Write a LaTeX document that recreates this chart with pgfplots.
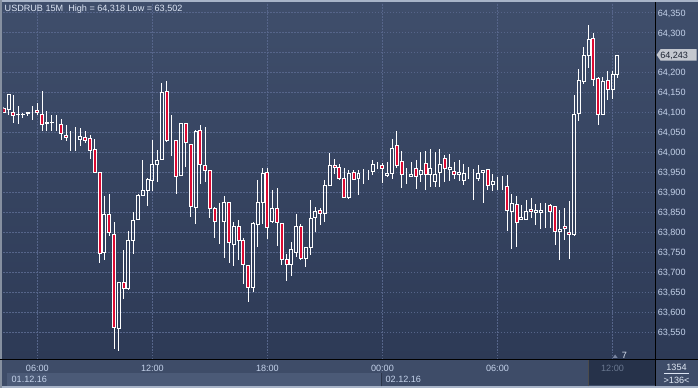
\documentclass[border=0pt]{standalone}
\usepackage{fontspec}
\setmainfont{Liberation Sans}
\usepackage{pgfplots}
\pgfplotsset{compat=1.18}
\usepackage{pgfplotstable}

\definecolor{bgtop}{HTML}{3F4E6B}
\definecolor{bgbot}{HTML}{2D3A56}
\definecolor{gridc}{HTML}{56658A}
\definecolor{cred}{HTML}{DC0A32}
\definecolor{txt}{HTML}{C4D2EA}
\definecolor{strip}{HTML}{3E4C68}
\definecolor{datestrip}{HTML}{4B5A77}
\definecolor{boxc}{HTML}{26324A}
\definecolor{dimc}{HTML}{6A7890}
\definecolor{edgec}{HTML}{A8B4C8}
\definecolor{markc}{HTML}{C4C8D0}
\definecolor{marktxt}{HTML}{1C2333}

\pgfplotstableread{
k o h l c
0 64.111 64.113 64.099 64.101
1 64.107 64.147 64.095 64.145
2 64.100 64.143 64.075 64.093
3 64.094 64.117 64.072 64.096
4 64.095 64.100 64.087 64.094
5 64.098 64.100 64.092 64.099
6 64.100 64.117 64.082 64.100
7 64.105 64.125 64.093 64.099
8 64.095 64.153 64.053 64.070
9 64.073 64.103 64.053 64.075
10 64.075 64.093 64.053 64.076
11 64.074 64.093 64.055 64.074
12 64.070 64.083 64.032 64.047
13 64.042 64.068 64.028 64.037
14 64.039 64.055 64.003 64.039
15 64.035 64.063 64.003 64.035
16 64.032 64.062 64.015 64.040
17 64.037 64.053 64.023 64.030
18 64.035 64.043 63.983 64.005
19 64.007 64.035 63.950 63.950
20 63.950 63.950 63.723 63.747
21 63.750 63.892 63.732 63.845
22 63.845 63.895 63.790 63.800
23 63.795 63.825 63.507 63.562
24 63.560 63.675 63.502 63.675
25 63.675 63.755 63.632 63.660
26 63.660 63.803 63.655 63.780
27 63.780 63.852 63.745 63.830
28 63.832 63.897 63.832 63.893
29 63.893 63.980 63.893 63.905
30 63.905 63.935 63.865 63.932
31 63.930 64.030 63.903 63.970
32 63.970 64.007 63.925 63.980
33 63.982 64.173 63.982 64.150
34 64.152 64.180 64.027 64.030
35 64.032 64.093 63.992 64.032
36 64.030 64.030 63.897 63.940
37 63.942 64.072 63.942 64.072
38 64.072 64.072 63.963 64.025
39 64.020 64.020 63.838 63.865
40 63.862 64.057 63.820 64.053
41 64.055 64.068 63.922 63.970
42 63.967 64.065 63.927 63.955
43 63.955 63.955 63.835 63.860
44 63.860 63.863 63.785 63.827
45 63.828 63.873 63.772 63.828
46 63.827 63.890 63.737 63.875
47 63.875 63.875 63.723 63.775
48 63.770 63.827 63.715 63.815
49 63.815 63.830 63.732 63.780
50 63.780 63.785 63.670 63.720
51 63.717 63.717 63.625 63.662
52 63.662 63.825 63.650 63.823
53 63.820 63.930 63.763 63.875
54 63.875 63.960 63.822 63.948
55 63.950 63.960 63.783 63.813
56 63.827 63.905 63.825 63.860
57 63.860 63.910 63.765 63.825
58 63.822 63.822 63.718 63.732
59 63.732 63.745 63.677 63.720
60 63.720 63.775 63.692 63.757
61 63.750 63.845 63.738 63.815
62 63.815 63.820 63.732 63.735
63 63.735 63.762 63.713 63.762
64 63.762 63.880 63.743 63.835
65 63.837 63.863 63.802 63.852
66 63.855 63.862 63.818 63.847
67 63.848 63.932 63.825 63.917
68 63.918 63.998 63.917 63.967
69 63.967 63.983 63.947 63.962
70 63.962 63.972 63.932 63.935
71 63.935 63.960 63.887 63.887
72 63.887 63.955 63.883 63.947
73 63.950 63.955 63.932 63.933
74 63.935 63.955 63.893 63.948
75 63.950 63.958 63.922 63.950
76 63.950 63.957 63.932 63.950
77 63.952 63.980 63.943 63.970
78 63.972 63.977 63.958 63.972
79 63.967 63.973 63.923 63.960
80 63.942 63.977 63.940 63.948
81 63.947 64.033 63.933 64.010
82 64.017 64.053 63.962 63.967
83 63.977 64.003 63.910 63.945
84 63.945 63.960 63.922 63.945
85 63.940 63.975 63.938 63.945
86 63.960 63.980 63.908 63.940
87 63.945 64.000 63.927 63.955
88 63.972 64.003 63.905 63.945
89 63.945 64.008 63.913 63.960
90 63.927 64.002 63.913 63.945
91 63.950 64.008 63.913 63.970
92 63.985 63.993 63.925 63.960
93 63.957 63.997 63.928 63.963
94 63.952 63.977 63.933 63.945
95 63.945 63.980 63.928 63.950
96 63.930 63.972 63.918 63.948
97 63.948 63.963 63.933 63.948
98 63.948 63.958 63.880 63.948
99 63.935 63.968 63.928 63.947
100 63.950 63.955 63.873 63.955
101 63.957 63.958 63.907 63.918
102 63.920 63.947 63.903 63.928
103 63.915 63.938 63.907 63.915
104 63.912 63.942 63.907 63.912
105 63.915 63.943 63.803 63.855
106 63.853 63.897 63.758 63.873
107 63.870 63.890 63.763 63.825
108 63.833 63.868 63.833 63.837
109 63.833 63.880 63.833 63.853
110 63.858 63.887 63.835 63.852
111 63.850 63.872 63.818 63.855
112 63.850 63.873 63.808 63.855
113 63.860 63.873 63.810 63.860
114 63.867 63.872 63.810 63.852
115 63.865 63.867 63.768 63.802
116 63.802 63.855 63.732 63.808
117 63.815 63.860 63.780 63.810
118 63.800 63.878 63.733 63.795
119 63.795 64.143 63.790 64.095
120 64.097 64.208 64.078 64.180
121 64.177 64.265 64.172 64.243
122 64.242 64.318 64.212 64.283
123 64.285 64.298 64.167 64.182
124 64.185 64.188 64.068 64.095
125 64.095 64.188 64.095 64.178
126 64.180 64.203 64.132 64.157
127 64.158 64.203 64.133 64.195
128 64.195 64.243 64.187 64.243
}\candles

\begin{document}
\begin{tikzpicture}[font=\fontsize{9.1bp}{11bp}\selectfont]
\begin{scope}[x=1bp,y=1bp]
\useasboundingbox (0,0) rectangle (698,389);
\fill[strip] (0,0) rectangle (698,389);
\shade[top color=bgtop,bottom color=bgbot] (0,29) rectangle (698,386);
\fill[datestrip] (7,2) rectangle (381.5,15);
\fill[boxc] (588.5,3) rectangle (655,28);
\fill[edgec] (0,0) rectangle (698,2);
\fill[edgec] (0,386.5) rectangle (698,389);
\fill[edgec!80!black] (0,0) rectangle (2,389);
\end{scope}

\begin{axis}[
  at={(3bp,29bp)}, anchor=south west, scale only axis,
  width=652bp, height=357bp,
  xmin=-0.0625, xmax=135.77, ymin=63.48175, ymax=64.37425,
  axis line style={draw=none},
  major tick length=0pt,
  xtick pos=bottom, ytick pos=right, yticklabel pos=right,
  xtick={7,31,55,79,103,127},
  xticklabels={06:00,12:00,18:00,00:00,06:00,\textcolor{dimc}{12:00}},
  ytick={63.55,63.6,63.65,63.7,63.75,63.8,63.85,63.9,63.95,64,64.05,64.1,64.15,64.2,64.25,64.3,64.35},
  yticklabels={{63,550},{63,600},{63,650},{63,700},{63,750},{63,800},{63,850},{63,900},{63,950},{64,000},{64,050},{64,100},{64,150},{64,200},{},{64,300},{64,350}},
  grid=major,
  major grid style={draw=gridc, dash pattern=on 1.5bp off 1.5bp, line width=0.8bp},
  tick label style={font=\fontsize{9.1bp}{11bp}\selectfont, text=txt, inner sep=0pt},
  yticklabel style={anchor=base west, xshift=3bp, yshift=-3.4bp},
  xticklabel style={anchor=base, yshift=-11.6bp},
]
\addplot[draw=none, mark=none, error bars/.cd, y dir=plus, y explicit, error mark=none,
  error bar style={draw=white, line width=1bp}]
  table[x=k, y expr={max(\thisrow{o},\thisrow{c})}, y error plus expr={\thisrow{h}-max(\thisrow{o},\thisrow{c})}] {\candles};
\addplot[draw=none, mark=none, error bars/.cd, y dir=minus, y explicit, error mark=none,
  error bar style={draw=white, line width=1bp}]
  table[x=k, y expr={min(\thisrow{o},\thisrow{c})}, y error minus expr={min(\thisrow{o},\thisrow{c})-\thisrow{l}}] {\candles};
\end{axis}

\begin{axis}[
  at={(3bp,29bp)}, anchor=south west, scale only axis,
  width=652bp, height=357bp,
  xmin=-0.0625, xmax=135.77, ymin=0.08175, ymax=0.97425,
  hide axis, ybar stacked, bar width=3bp,
]
\addplot[draw=none, fill=none] table[x=k, y expr={min(\thisrow{o},\thisrow{c})-63.4}] {\candles};
\addplot[draw=white, fill=cred, line width=1bp] table[x=k, y expr={max(\thisrow{o}-\thisrow{c},0)}] {\candles};
\addplot[draw=white, fill=none, line width=1bp] table[x=k, y expr={max(\thisrow{c}-\thisrow{o},0)}] {\candles};
\end{axis}

\begin{scope}[x=1bp,y=1bp]
\draw[black, line width=1bp] (0,28.5) -- (698,28.5);
\draw[black, line width=1bp] (655.5,2) -- (655.5,386.5);
\draw[black!70, line width=0.8bp] (588.5,2) -- (588.5,28);
\draw[strip!70!black, line width=0.6bp] (381.5,2) -- (381.5,15);
\node[anchor=base west, inner sep=0pt, text=txt!60!white] at (4,377.6) {USDRUB 15M\ \ High = 64,318 Low = 63,502};
\node[anchor=base west, inner sep=0pt, text=txt] at (11,6.4) {01.12.16};
\node[anchor=base west, inner sep=0pt, text=txt] at (385.5,6.4) {02.12.16};
\fill[markc] (657,334) -- (661,339.7) -- (697,339.7) -- (697,328.3) -- (661,328.3) -- cycle;
\node[anchor=base west, inner sep=0pt, text=marktxt] at (660.5,330.6) {64,243};
\node[anchor=base, inner sep=0pt, text=txt!50!white] at (677,18) {1354};
\draw[txt!60!white, line width=0.6bp] (664.5,15.2) -- (689.5,15.2);
\node[anchor=base, inner sep=0pt, text=txt!50!white] at (677,5.2) {>136<};
\fill[gridc!80!white] (613,30.5) -- (618,30.5) -- (615.5,34) -- cycle;
\node[anchor=base west, inner sep=0pt, text=txt!60!white] at (622,30) {7};
\end{scope}
\end{tikzpicture}
\end{document}
